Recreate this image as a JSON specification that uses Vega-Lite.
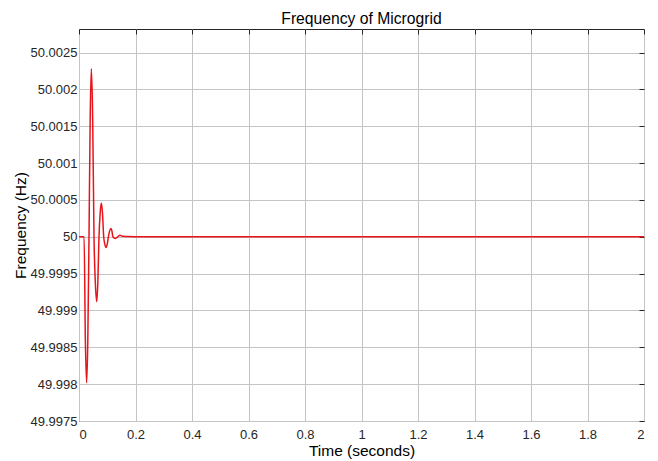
{
  "$schema": "https://vega.github.io/schema/vega-lite/v6.json",
  "autosize": {"type": "none"},
  "width": 565,
  "height": 392,
  "padding": {"left": 79, "top": 29, "right": 14, "bottom": 40},
  "background": "white",
  "title": {"text": "Frequency of Microgrid", "font": "Liberation Sans", "fontSize": 15.7, "fontWeight": "normal", "color": "#000000", "offset": 1, "anchor": "middle"},
  "config": {
    "view": {"stroke": "#262626", "strokeWidth": 1},
    "axis": {"domain": false, "gridColor": "#c4c4c4", "gridOpacity": 1, "gridWidth": 1, "tickColor": "#262626", "labelFont": "Liberation Sans", "labelFontSize": 13, "labelColor": "#262626", "titleFont": "Liberation Sans", "titleFontSize": 15.5, "titleFontWeight": "normal", "titleColor": "#000000"}
  },
  "data": {"values": [
    {"t": 0, "f": 50},
    {"t": 0.018, "f": 50},
    {"t": 0.0225, "f": 49.9986},
    {"t": 0.027, "f": 49.99802},
    {"t": 0.0312, "f": 49.9986},
    {"t": 0.0354, "f": 50},
    {"t": 0.0396, "f": 50.00161},
    {"t": 0.0437, "f": 50.00228},
    {"t": 0.0484, "f": 50.00161},
    {"t": 0.0531, "f": 50},
    {"t": 0.0578, "f": 49.99938},
    {"t": 0.0626, "f": 49.99912},
    {"t": 0.0667, "f": 49.99938},
    {"t": 0.0708, "f": 50},
    {"t": 0.0749, "f": 50.00032},
    {"t": 0.079, "f": 50.000457},
    {"t": 0.0832, "f": 50.00032},
    {"t": 0.0874, "f": 50},
    {"t": 0.0915, "f": 49.999898},
    {"t": 0.0956, "f": 49.999856},
    {"t": 0.0998, "f": 49.999898},
    {"t": 0.104, "f": 50},
    {"t": 0.1085, "f": 50.00008},
    {"t": 0.113, "f": 50.000114},
    {"t": 0.1165, "f": 50.00008},
    {"t": 0.12, "f": 50},
    {"t": 0.129, "f": 49.999978},
    {"t": 0.137, "f": 50},
    {"t": 0.145, "f": 50.00002},
    {"t": 0.155, "f": 50.000006},
    {"t": 0.17, "f": 50.000004},
    {"t": 0.2, "f": 50.000002},
    {"t": 0.3, "f": 50},
    {"t": 2, "f": 50}
  ]},
  "layer": [
    {
      "mark": {"type": "line", "color": "#e8141c", "strokeWidth": 1.5, "interpolate": "monotone", "clip": true},
      "encoding": {
        "x": {"field": "t", "type": "quantitative", "scale": {"domain": [0, 2], "nice": false, "zero": false},
          "axis": {"title": "Time (seconds)", "ticks": false, "values": [0, 0.2, 0.4, 0.6, 0.8, 1, 1.2, 1.4, 1.6, 1.8, 2], "labelExpr": "format(datum.value, '~g')", "labelPadding": 7, "titlePadding": 2}},
        "y": {"field": "f", "type": "quantitative", "scale": {"domain": [49.9975, 50.00282], "nice": false, "zero": false},
          "axis": {"title": "Frequency (Hz)", "ticks": false, "values": [49.9975, 49.998, 49.9985, 49.999, 49.9995, 50, 50.0005, 50.001, 50.0015, 50.002, 50.0025], "labelExpr": "format(datum.value, '.4~f')", "labelPadding": 2, "titlePadding": 2}}
      }
    },
    {
      "mark": {"type": "line", "strokeOpacity": 0},
      "encoding": {
        "x": {"field": "t", "type": "quantitative", "axis": {"orient": "top", "labels": false, "grid": false, "title": null, "tickSize": -5, "values": [0, 0.2, 0.4, 0.6, 0.8, 1, 1.2, 1.4, 1.6, 1.8, 2]}},
        "y": {"field": "f", "type": "quantitative", "axis": {"orient": "right", "labels": false, "grid": false, "title": null, "tickSize": -5, "values": [49.9975, 49.998, 49.9985, 49.999, 49.9995, 50, 50.0005, 50.001, 50.0015, 50.002, 50.0025]}}
      }
    }
  ],
  "resolve": {"axis": {"x": "independent", "y": "independent"}}
}
